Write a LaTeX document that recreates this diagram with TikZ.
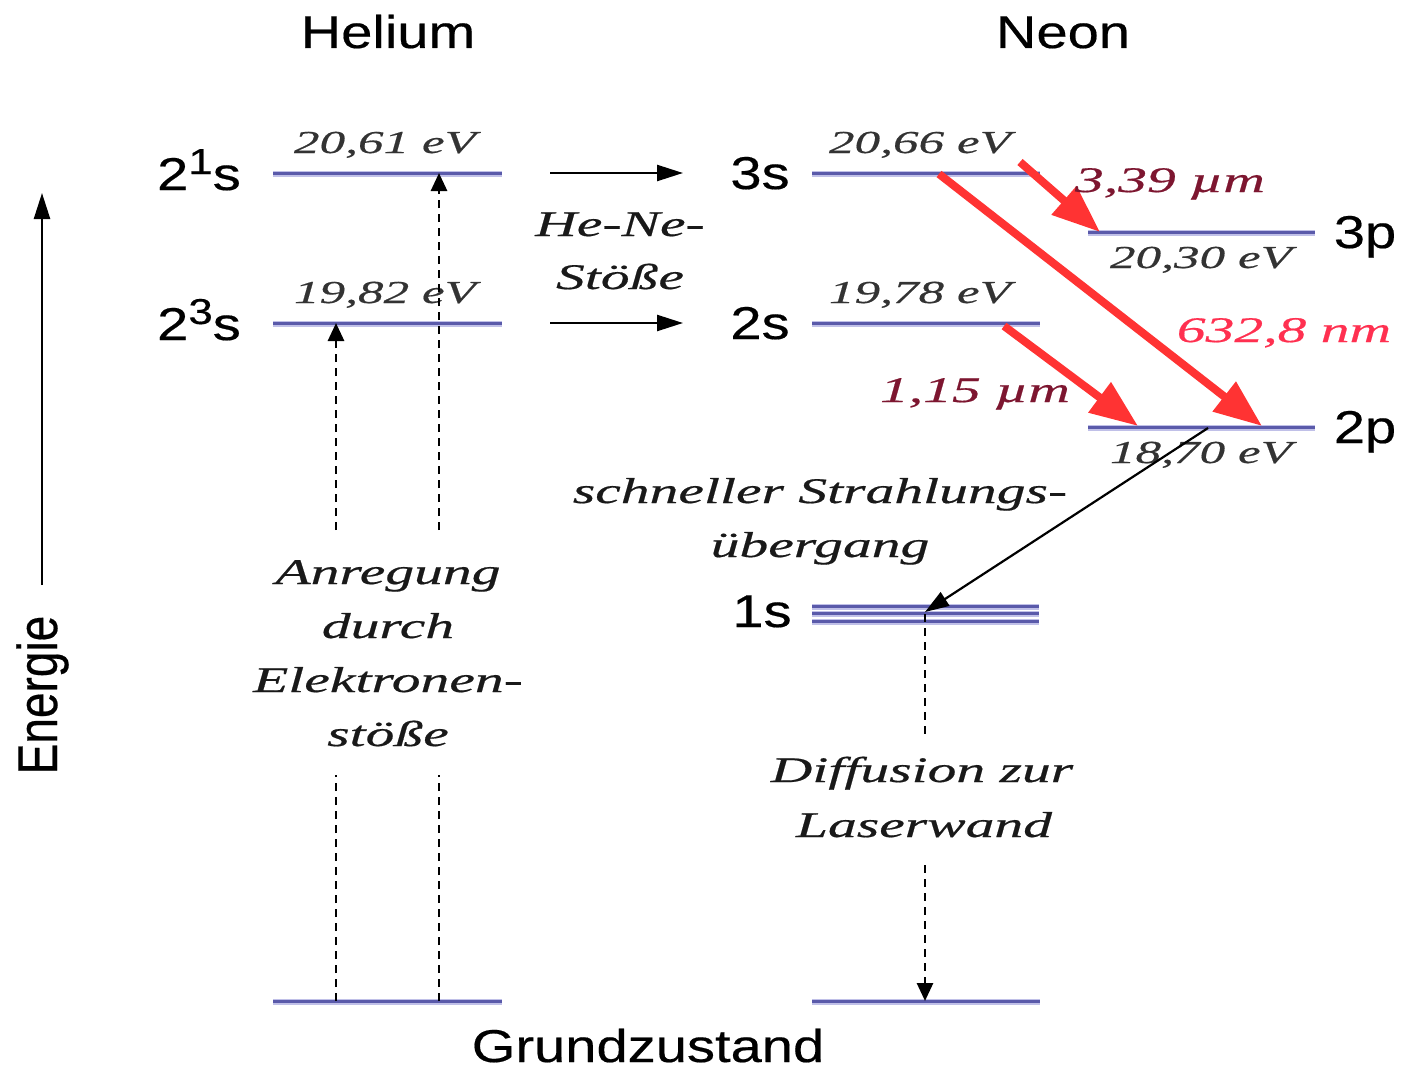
\documentclass[tikz,border=0pt]{standalone}
\usepackage{fontspec}
\usetikzlibrary{arrows.meta}
\newfontfamily\lsans{Liberation Sans}[FakeStretch=1.22,FakeBold=0.4]
\newfontfamily\lsansn{Liberation Sans}[FakeBold=0.4]
\newfontfamily\lserif{Liberation Serif}[FakeStretch=1.6,FakeBold=0.5]
\definecolor{levc}{RGB}{90,90,170}
\definecolor{levl}{RGB}{192,192,232}
\definecolor{arrred}{RGB}{255,51,51}
\definecolor{darkred}{RGB}{125,22,48}
\definecolor{pinkred}{RGB}{255,48,80}
\begin{document}
\begin{tikzpicture}[x=0.5pt,y=-0.5pt,
  big/.style={font=\lsans\fontsize{23}{23}\selectfont, inner sep=0pt, anchor=base},
  it/.style={font=\lserif\itshape\fontsize{18}{18}\selectfont, inner sep=0pt, anchor=base, text=black!90},
  ev/.style={font=\lserif\itshape\fontsize{16}{16}\selectfont, inner sep=0pt, anchor=base, text=black!80},
  level/.style={draw=levc, line width=1.5pt},
  halo/.style={draw=levl, line width=3pt},
  collide/.style={-{Triangle[length=13pt,width=8pt]}, line width=1.2pt},
  dotarr/.style={line width=1.4pt, dash pattern=on 4pt off 3pt},
  dottip/.style={dotarr, -{Triangle[length=9pt,width=8pt]}},
  laser/.style={draw=arrred, line width=4pt, -{Triangle[length=24pt,width=18pt]}},
]
\useasboundingbox (0,0) rectangle (1417,1081);

% ---- level end points
\coordinate (heAL) at (273,173);  \coordinate (heAR) at (502,173);
\coordinate (heBL) at (273,323);  \coordinate (heBR) at (502,323);
\coordinate (heGL) at (273,1001); \coordinate (heGR) at (502,1001);
\coordinate (ne3sL) at (812,173); \coordinate (ne3sR) at (1040,173);
\coordinate (ne2sL) at (812,323); \coordinate (ne2sR) at (1040,323);
\coordinate (ne3pL) at (1088,232); \coordinate (ne3pR) at (1315,232);
\coordinate (ne2pL) at (1088,427); \coordinate (ne2pR) at (1315,427);
\coordinate (ne1aL) at (812,606); \coordinate (ne1aR) at (1039,606);
\coordinate (ne1bL) at (812,613); \coordinate (ne1bR) at (1039,613);
\coordinate (ne1cL) at (812,621); \coordinate (ne1cR) at (1039,621);
\coordinate (neGL) at (812,1001); \coordinate (neGR) at (1040,1001);

\foreach \a/\b in {heAL/heAR,heBL/heBR,heGL/heGR,ne3sL/ne3sR,ne2sL/ne2sR,ne3pL/ne3pR,ne2pL/ne2pR,ne1aL/ne1aR,ne1bL/ne1bR,ne1cL/ne1cR,neGL/neGR}
  \draw[halo] ([yshift=-0.6pt]\a) -- ([yshift=-0.6pt]\b);
\foreach \a/\b in {heAL/heAR,heBL/heBR,heGL/heGR,ne3sL/ne3sR,ne2sL/ne2sR,ne3pL/ne3pR,ne2pL/ne2pR,ne1aL/ne1aR,ne1bL/ne1bR,ne1cL/ne1cR,neGL/neGR}
  \draw[level] (\a) -- (\b);

% ---- headings
\node[big] (helium) at (388,48) {Helium};
\node[big] (neon) at (1063,48) {Neon};
\node[big] (grund) at (648,1062) {Grundzustand};

% ---- level labels
\node[big] (l21s) at (199,190) {2\raisebox{8pt}{\fontsize{18}{18}\selectfont 1}s};
\node[big] (l23s) at (199,340) {2\raisebox{8pt}{\fontsize{18}{18}\selectfont 3}s};
\node[big] (l3s) at (760,189) {3s};
\node[big] (l2s) at (760,339) {2s};
\node[big] (l3p) at (1365,248) {3p};
\node[big] (l2p) at (1365,443) {2p};
\node[big] (l1s) at (762,627) {1s};

% ---- energies
\node[ev] (e2061) at (385,153) {20,61 eV};
\node[ev] (e1982) at (385,303) {19,82 eV};
\node[ev] (e2066) at (920,153) {20,66 eV};
\node[ev] (e1978) at (920,303) {19,78 eV};
\node[ev] (e2030) at (1201,268) {20,30 eV};
\node[ev] (e1870) at (1201,463) {18,70 eV};

% ---- energy axis
\coordinate (ax0) at (42,585); \coordinate (ax1) at (42,193);
\draw[collide] (ax0) -- (ax1);
\node[rotate=90, anchor=base, inner sep=0pt, font=\lsansn\fontsize{23}{23}\selectfont] (energie) at (57,695) {\scalebox{1}[1.22]{Energie}};

% ---- He-Ne collisions
\coordinate (c1a) at (550,173); \coordinate (c1b) at (683,173);
\coordinate (c2a) at (550,323); \coordinate (c2b) at (683,323);
\draw[collide] (c1a) -- (c1b);
\draw[collide] (c2a) -- (c2b);
\node[it] (hene1) at (620,236) {He-Ne-};
\node[it] (hene2) at (620,289) {Stöße};

% ---- electron impact excitation
\node[it] (anr1) at (388,584) {Anregung};
\node[it] (anr2) at (388,638) {durch};
\node[it] (anr3) at (388,692) {Elektronen-};
\node[it] (anr4) at (388,746) {stöße};
\coordinate (x1t) at (336,530); \coordinate (x2t) at (439,530);
\coordinate (x1b) at (336,775); \coordinate (x2b) at (439,775);
\coordinate (x1g) at (336,1001); \coordinate (x2g) at (439,1001);
\coordinate (x1e) at (336,323); \coordinate (x2e) at (439,173);
\draw[dottip] (x1t) -- (x1e);
\draw[dottip] (x2t) -- (x2e);
\draw[dotarr] (x1g) -- (x1b);
\draw[dotarr] (x2g) -- (x2b);

% ---- laser transitions
\coordinate (r1a) at (1020,162); \coordinate (r1b) at (1100,232);
\coordinate (r2a) at (939,174);  \coordinate (r2b) at (1262,426);
\coordinate (r3a) at (1004,326); \coordinate (r3b) at (1138,426);
\draw[laser] (r1a) -- (r1b);
\draw[laser] (r2a) -- (r2b);
\draw[laser] (r3a) -- (r3b);
\node[it, text=darkred] (w339) at (1170,192) {3,39 µm};
\node[it, text=pinkred] (w632) at (1284,342) {632,8 nm};
\node[it, text=darkred] (w115) at (975,402) {1,15 µm};

% ---- fast radiative decay
\coordinate (f0) at (1208,428); \coordinate (f1) at (925,612);
\draw[-{Triangle[length=12pt,width=8pt]}, line width=1.1pt] (f0) -- (f1);
\node[it] (sch1) at (820,503) {schneller Strahlungs-};
\node[it] (sch2) at (820,557) {übergang};

% ---- diffusion
\coordinate (d0) at (925,614); \coordinate (d1) at (925,738);
\coordinate (d2) at (925,865); \coordinate (d3) at (925,1001);
\draw[dotarr] (d0) -- (d1);
\draw[dottip] (d2) -- (d3);
\node[it] (dif1) at (922,782) {Diffusion zur};
\node[it] (dif2) at (924,837) {Laserwand};
\end{tikzpicture}
\end{document}
